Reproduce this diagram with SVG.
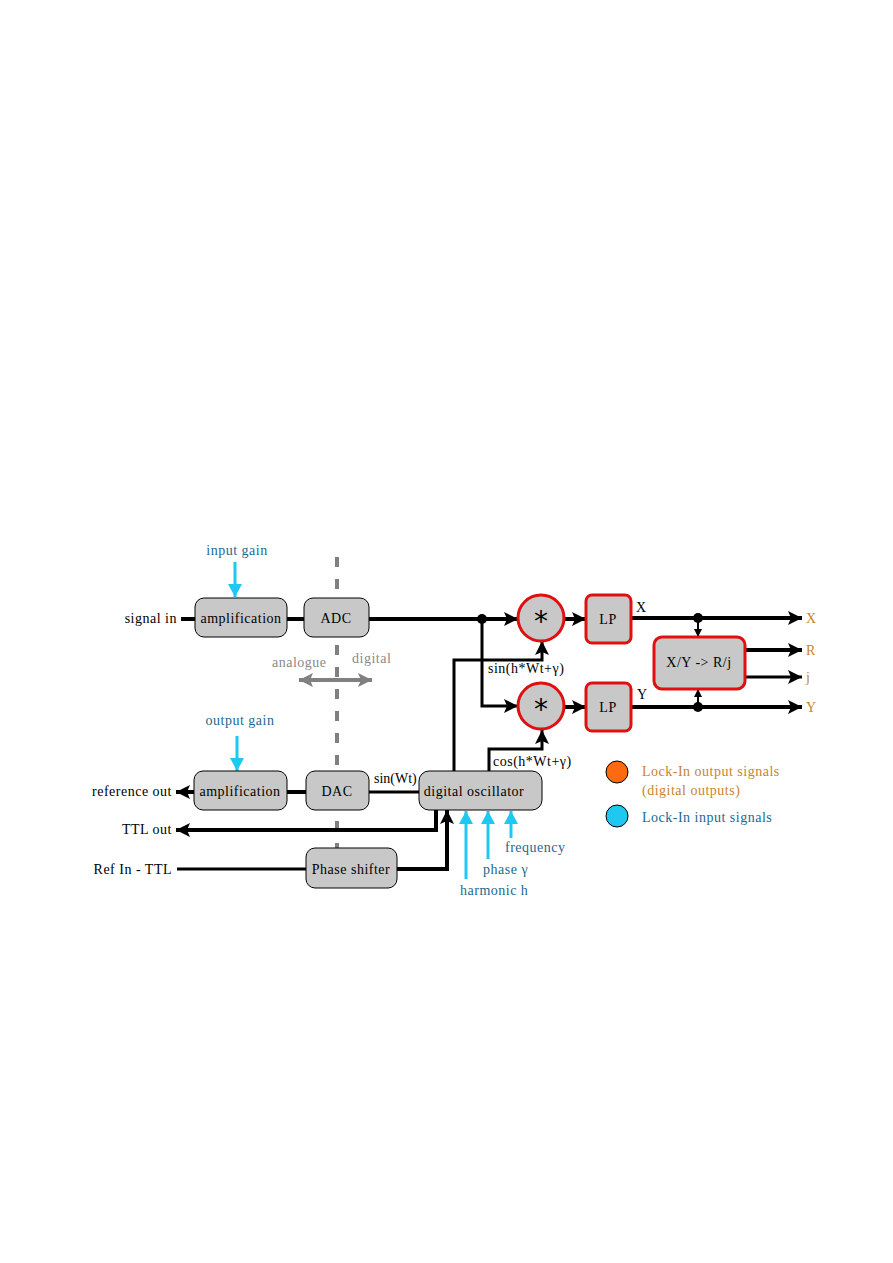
<svg xmlns="http://www.w3.org/2000/svg" width="893" height="1263" viewBox="0 0 893 1263">
<defs>
<style>
text{font-family:"Liberation Serif","Times New Roman",serif;font-size:14px;fill:#000;letter-spacing:0.5px}
.blue{fill:#1a6a90}
.org{fill:#c8842c}
.gray{fill:#8a8a8a}
.box{fill:#c8c8c8;stroke:#000;stroke-width:1}
.rbox{fill:#c8c8c8;stroke:#e01010;stroke-width:3}
.w{fill:none;stroke:#000;stroke-width:4}
.t{fill:none;stroke:#000;stroke-width:3}
.cy{fill:none;stroke:#1ec8f0;stroke-width:3}
</style>
<marker id="ab" markerUnits="userSpaceOnUse" markerWidth="16" markerHeight="14" refX="14" refY="7" orient="auto"><path d="M0,0 L14,7 L0,14 L3,7 Z" fill="#000"/></marker>
<marker id="as" markerUnits="userSpaceOnUse" markerWidth="10" markerHeight="10" refX="8" refY="4" orient="auto"><path d="M0,0 L8,4 L0,8 Z" fill="#000"/></marker>
<marker id="ac" markerUnits="userSpaceOnUse" markerWidth="14" markerHeight="16" refX="13" refY="7" orient="auto"><path d="M0,0 L13,7 L0,14 Z" fill="#1ec8f0"/></marker>
<marker id="ag" markerUnits="userSpaceOnUse" markerWidth="16" markerHeight="16" refX="14" refY="7" orient="auto"><path d="M0,0 L14,7 L0,14 L3,7 Z" fill="#808080"/></marker>
</defs>

<g id="divider">
<line x1="337" y1="557" x2="337" y2="848" stroke="#808080" stroke-width="4" stroke-dasharray="10,12"/>
<line x1="316" y1="680" x2="299" y2="680" stroke="#808080" stroke-width="4" marker-end="url(#ag)"/>
<line x1="316" y1="680" x2="372" y2="680" stroke="#808080" stroke-width="4" marker-end="url(#ag)"/>
<text class="gray" x="272" y="667">analogue</text>
<text class="gray" x="352" y="663">digital</text>
</g>

<g id="connectors">
<line class="w" x1="181" y1="619" x2="195" y2="619"/>
<line class="w" x1="287" y1="619" x2="304" y2="619"/>
<line class="w" x1="369" y1="619" x2="518" y2="619" marker-end="url(#ab)"/>
<polyline class="t" points="482,619 482,706 518,706" marker-end="url(#ab)"/>
<line class="w" x1="564" y1="619" x2="586" y2="619" marker-end="url(#ab)"/>
<line class="w" x1="564" y1="707" x2="586" y2="707" marker-end="url(#ab)"/>
<polyline class="t" points="454,771 454,660 542,660 542,641" marker-end="url(#ab)"/>
<polyline class="t" points="489,771 489,749 542,749 542,730" marker-end="url(#ab)"/>
<line class="w" x1="631" y1="618" x2="802" y2="618" marker-end="url(#ab)"/>
<line class="w" x1="631" y1="707" x2="802" y2="707" marker-end="url(#ab)"/>
<line class="w" x1="745" y1="650" x2="802" y2="650" marker-end="url(#ab)"/>
<line class="t" x1="745" y1="677" x2="802" y2="677" marker-end="url(#ab)"/>
<line stroke="#000" stroke-width="2" x1="698" y1="618" x2="698" y2="637" marker-end="url(#as)"/>
<line stroke="#000" stroke-width="2" x1="698" y1="707" x2="698" y2="689" marker-end="url(#as)"/>
<circle cx="482" cy="619" r="5" fill="#000"/>
<circle cx="698" cy="618" r="5" fill="#000"/>
<circle cx="698" cy="707" r="5" fill="#000"/>
<line class="w" x1="194" y1="792" x2="176" y2="792" marker-end="url(#ab)"/>
<line class="w" x1="287" y1="792" x2="306" y2="792"/>
<line class="t" x1="369" y1="792" x2="419" y2="792"/>
<polyline class="w" points="436,810 436,830 176,830" marker-end="url(#ab)"/>
<line class="t" x1="177" y1="869" x2="306" y2="869"/>
<polyline class="w" points="397,869 447,869 447,810" marker-end="url(#ab)"/>
<line class="cy" x1="235" y1="562" x2="235" y2="597" marker-end="url(#ac)"/>
<line class="cy" x1="237" y1="736" x2="237" y2="771" marker-end="url(#ac)"/>
<line class="cy" x1="466" y1="879" x2="466" y2="811" marker-end="url(#ac)"/>
<line class="cy" x1="488" y1="859" x2="488" y2="811" marker-end="url(#ac)"/>
<line class="cy" x1="511" y1="838" x2="511" y2="811" marker-end="url(#ac)"/>
</g>

<g id="amp-in"><rect class="box" x="195" y="598" width="92" height="39" rx="9"/><text x="241" y="623" text-anchor="middle">amplification</text></g>
<g id="adc"><rect class="box" x="304" y="598" width="65" height="39" rx="9"/><text x="336" y="623" text-anchor="middle">ADC</text></g>
<g id="mult1"><circle class="rbox" cx="541" cy="618" r="23"/><text x="541" y="631" text-anchor="middle" style="font-family:'DejaVu Sans',sans-serif;font-size:28px;letter-spacing:0">*</text></g>
<g id="mult2"><circle class="rbox" cx="541" cy="706" r="23"/><text x="541" y="719" text-anchor="middle" style="font-family:'DejaVu Sans',sans-serif;font-size:28px;letter-spacing:0">*</text></g>
<g id="lp1"><rect class="rbox" x="586" y="595" width="45" height="48" rx="6"/><text x="608" y="624" text-anchor="middle">LP</text></g>
<g id="lp2"><rect class="rbox" x="586" y="683" width="45" height="48" rx="6"/><text x="608" y="712" text-anchor="middle">LP</text></g>
<g id="xy"><rect class="rbox" x="654" y="637" width="91" height="52" rx="8"/><text x="699" y="667" text-anchor="middle">X/Y -&gt; R/j</text></g>
<g id="amp-out"><rect class="box" x="194" y="771" width="93" height="39" rx="9"/><text x="240" y="796" text-anchor="middle">amplification</text></g>
<g id="dac"><rect class="box" x="306" y="771" width="63" height="39" rx="9"/><text x="337" y="796" text-anchor="middle">DAC</text></g>
<g id="osc"><rect class="box" x="419" y="771" width="123" height="39" rx="10"/><text x="474" y="796" text-anchor="middle">digital oscillator</text></g>
<g id="phase"><rect class="box" x="306" y="848" width="91" height="40" rx="9"/><text x="351" y="874" text-anchor="middle">Phase shifter</text></g>

<g id="labels">
<text x="177" y="623" text-anchor="end">signal in</text>
<text x="172" y="796" text-anchor="end">reference out</text>
<text x="172" y="834" text-anchor="end">TTL out</text>
<text x="172" y="874" text-anchor="end">Ref In - TTL</text>
<text class="blue" x="237" y="555" text-anchor="middle">input gain</text>
<text class="blue" x="240" y="725" text-anchor="middle">output gain</text>
<text x="488" y="673">sin(h*Wt+γ)</text>
<text x="493" y="766">cos(h*Wt+γ)</text>
<text x="374" y="783" style="letter-spacing:0">sin(Wt)</text>
<text class="blue" x="505" y="852">frequency</text>
<text class="blue" x="483" y="874">phase γ</text>
<text class="blue" x="460" y="895">harmonic h</text>
<text x="636" y="612">X</text>
<text x="637" y="699">Y</text>
<text class="org" x="806" y="623">X</text>
<text class="org" x="806" y="655">R</text>
<text class="org" x="806" y="682">j</text>
<text class="org" x="806" y="712">Y</text>
</g>

<g id="legend">
<circle cx="617" cy="772" r="11" fill="#ff6a10" stroke="#000" stroke-width="1"/>
<circle cx="617" cy="816" r="11" fill="#1ec8f0" stroke="#000" stroke-width="1"/>
<text class="org" x="642" y="776">Lock-In output signals</text>
<text class="org" x="642" y="795">(digital outputs)</text>
<text class="blue" x="642" y="822">Lock-In input signals</text>
</g>
</svg>
